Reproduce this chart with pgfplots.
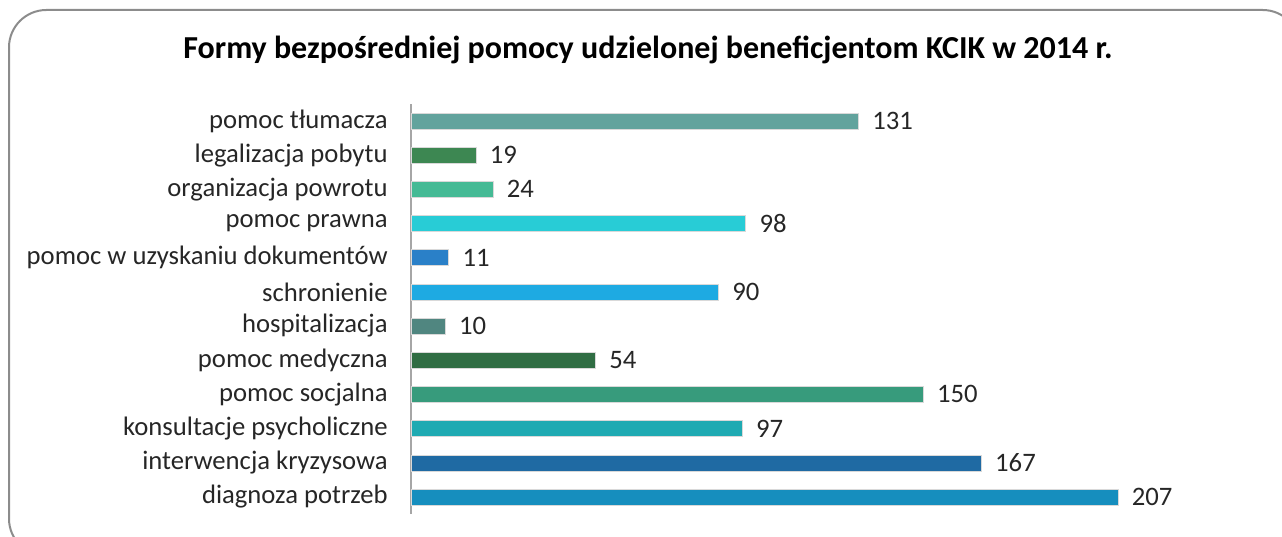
\documentclass[border=0pt]{standalone}
\usepackage{fontspec}
\setmainfont{Carlito}
\usepackage{pgfplots}
\pgfplotsset{compat=1.18}
\definecolor{c0}{HTML}{168EBE}
\definecolor{c1}{HTML}{1F6AA3}
\definecolor{c2}{HTML}{1FAAB2}
\definecolor{c3}{HTML}{379B7C}
\definecolor{c4}{HTML}{306D43}
\definecolor{c5}{HTML}{508680}
\definecolor{c6}{HTML}{1EAAE2}
\definecolor{c7}{HTML}{2A80C8}
\definecolor{c8}{HTML}{28CCD6}
\definecolor{c9}{HTML}{45BA95}
\definecolor{c10}{HTML}{3D8752}
\definecolor{c11}{HTML}{62A39D}
\begin{document}
\begin{tikzpicture}[x=0.75pt,y=0.75pt]
\useasboundingbox (0,0) rectangle (1282,536);
\begin{scope}
\clip (0,0) rectangle (1282,536);
\draw[draw=black!45, line width=1.5pt, rounded corners=28pt] (9,-20) rectangle (1300,526);
\end{scope}
\node[font=\fontsize{24}{28}\selectfont\bfseries] at (648,486) {Formy bezpośredniej pomocy udzielonej beneficjentom KCIK w 2014 r.};
\begin{axis}[
  at={(308.25pt,16.5pt)}, anchor=south west,
  scale only axis,
  width=563.4pt, height=307.6pt,
  xmin=0, xmax=220, ymin=-0.5, ymax=11.5,
  axis x line=none,
  axis y line*=left,
  y axis line style={draw=black!35, line width=0.8pt, -},
  ytick={0,...,11},
  yticklabels={diagnoza potrzeb, interwencja kryzysowa, konsultacje psycholiczne, pomoc socjalna, pomoc medyczna, hospitalizacja, schronienie, pomoc w uzyskaniu dokumentów, pomoc prawna, organizacja powrotu\ , legalizacja pobytu, pomoc tłumacza},
  major tick length=0pt,
  yticklabel style={font=\fontsize{20}{22}\selectfont, text=black!85, xshift=-14pt},
  xbar, bar width=12pt, bar shift=0pt,
  /pgf/number format/assume math mode=true,
  nodes near coords,
  nodes near coords style={font=\fontsize{20}{22}\selectfont, text=black!85, anchor=west, xshift=7pt},
  every axis plot/.append style={draw=white!70!gray, line width=0.3pt},
  clip=false,
]
\addplot[fill=c0] coordinates {(207,0)};
\addplot[fill=c1] coordinates {(167,1)};
\addplot[fill=c2] coordinates {(97,2)};
\addplot[fill=c3] coordinates {(150,3)};
\addplot[fill=c4] coordinates {(54,4)};
\addplot[fill=c5] coordinates {(10,5)};
\addplot[fill=c6] coordinates {(90,6)};
\addplot[fill=c7] coordinates {(11,7)};
\addplot[fill=c8] coordinates {(98,8)};
\addplot[fill=c9] coordinates {(24,9)};
\addplot[fill=c10] coordinates {(19,10)};
\addplot[fill=c11] coordinates {(131,11)};
\end{axis}
\end{tikzpicture}
\end{document}
